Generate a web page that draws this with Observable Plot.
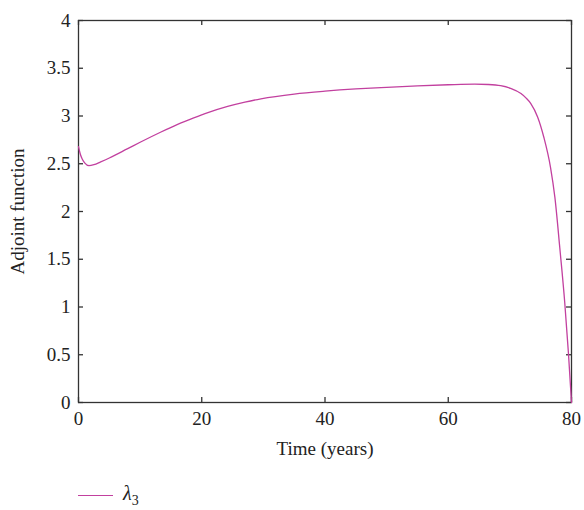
<!DOCTYPE html>
<html>
<head>
<meta charset="utf-8">
<script src="https://cdn.jsdelivr.net/npm/d3@7"></script>
<script src="https://cdn.jsdelivr.net/npm/@observablehq/plot@0.6"></script>
<style>
  html, body { margin: 0; padding: 0; background: #fff; }
  #wrap { width: 584px; font-family: "Liberation Serif", "DejaVu Serif", serif; }
  #legend { position: relative; height: 40px; }
  #legend .sw { position: absolute; left: 78px; top: 25px; width: 35px; height: 0; border-top: 1.3px solid #c2409f; }
  #legend .lab { position: absolute; left: 123px; top: 12px; font-size: 20px; font-style: italic; color: #222; }
  #legend .lab sub { font-style: normal; font-size: 14px; }
</style>
</head>
<body>
<div id="wrap"><div id="chart"></div><div id="legend"><div class="sw"></div><div class="lab">λ<sub>3</sub></div></div></div>
<script>
const time = [0, 0.3, 0.6, 1, 1.7, 2.5, 3.6, 5, 7.9, 10, 13.3, 16, 18.7, 21, 24.2, 27, 29.6, 35, 40, 45, 50, 55, 60, 64.3, 66.5, 68.5, 70.1, 71.8, 72.6, 73.4, 74.5, 75.5, 76.6, 77.3, 78.1, 78.9, 79.5, 80];
const lambda3 = [2.68, 2.6, 2.55, 2.51, 2.48, 2.49, 2.52, 2.56, 2.655, 2.725, 2.83, 2.91, 2.98, 3.035, 3.10, 3.145, 3.18, 3.23, 3.26, 3.283, 3.30, 3.315, 3.327, 3.334, 3.33, 3.317, 3.29, 3.235, 3.19, 3.13, 2.99, 2.78, 2.46, 2.15, 1.62, 1.05, 0.52, 0];
const xTicks = [0, 20, 40, 60, 80];
const yTicks = [0, 0.5, 1, 1.5, 2, 2.5, 3, 3.5, 4];
const xLabel = "Time (years)";
const yLabel = "Adjoint function";

const data = time.map((t, i) => ({t, v: lambda3[i]}));
const fmt = d => String(d);

const W = 584, H = 470, mT = 20, mB = 68, mL = 78, mR = 13, tick = 5;
const plotW = W - mL - mR, plotH = H - mT - mB;

const chart = Plot.plot({
  width: W,
  height: H,
  marginTop: mT,
  marginBottom: mB,
  marginLeft: mL,
  marginRight: mR,
  style: {fontFamily: "'Liberation Serif', 'DejaVu Serif', serif", fontSize: "19px", color: "#222", background: "#fff"},
  x: {domain: [0, 80]},
  y: {domain: [0, 4]},
  marks: [
    Plot.axisX({ticks: xTicks, tickFormat: fmt, anchor: "bottom", tickSize: 0, tickPadding: 9, label: xLabel, labelAnchor: "center", labelArrow: "none", labelOffset: 52, fontSize: 19}),
    Plot.axisY({ticks: yTicks, tickFormat: fmt, anchor: "left", tickSize: 0, tickPadding: 8, label: yLabel, labelAnchor: "center", labelArrow: "none", labelOffset: 68, fontSize: 19}),
    // inward ticks on all four sides
    Plot.ruleX(xTicks, {x: d => d, insetTop: plotH - tick, stroke: "#333", strokeWidth: 1.3}),
    Plot.ruleX(xTicks, {x: d => d, insetBottom: plotH - tick, stroke: "#333", strokeWidth: 1.3}),
    Plot.ruleY(yTicks, {y: d => d, insetRight: plotW - tick, stroke: "#333", strokeWidth: 1.3}),
    Plot.ruleY(yTicks, {y: d => d, insetLeft: plotW - tick, stroke: "#333", strokeWidth: 1.3}),
    Plot.frame({stroke: "#333", strokeWidth: 1.3}),
    Plot.line(data, {x: "t", y: "v", stroke: "#c2409f", strokeWidth: 1.3, curve: "monotone-x"})
  ]
});
document.getElementById("chart").appendChild(chart);
</script>
</body>
</html>
